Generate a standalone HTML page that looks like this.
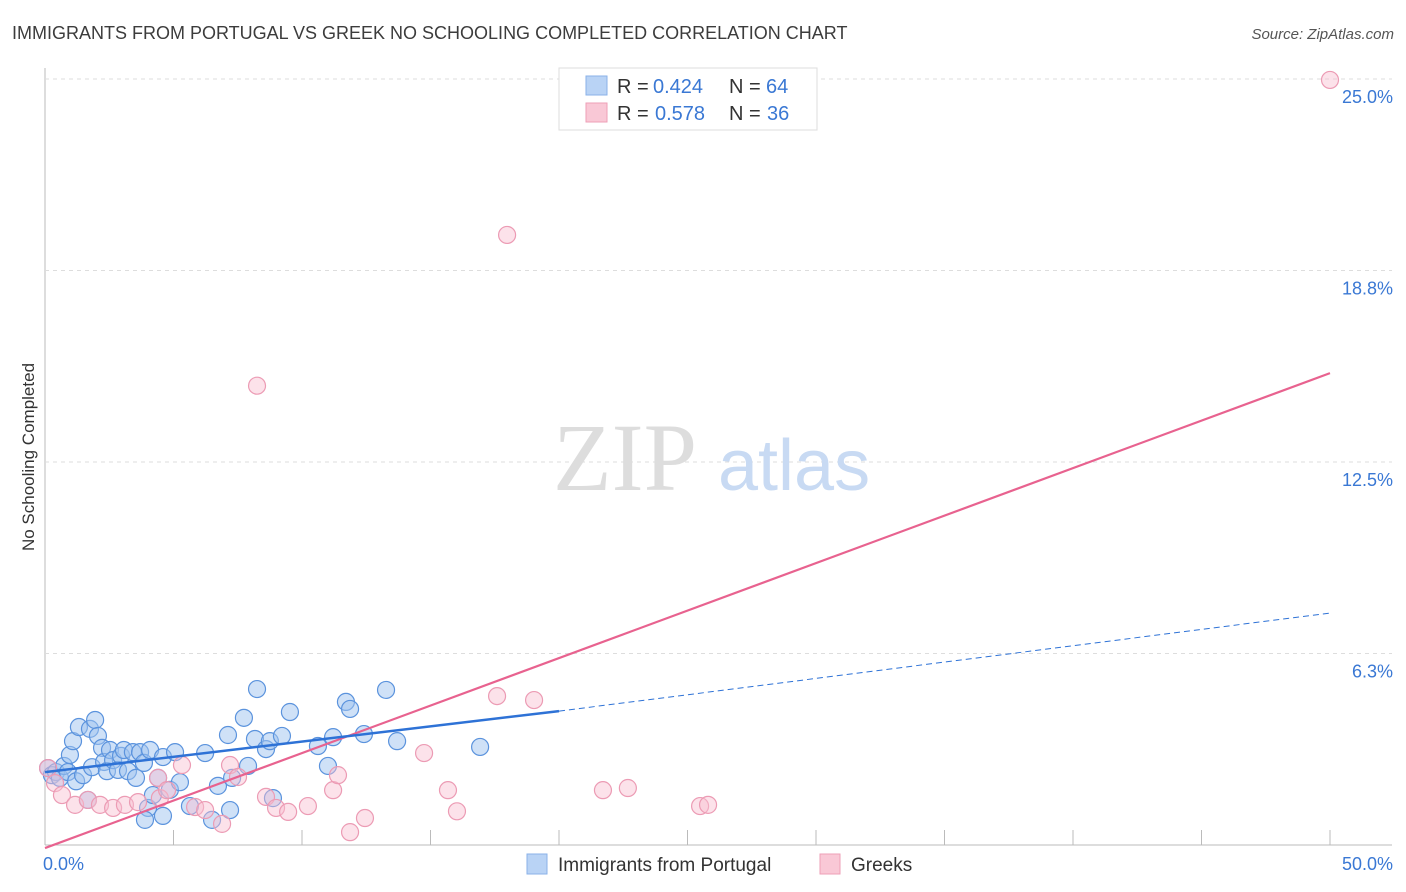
<!DOCTYPE html>
<html><head><meta charset="utf-8"><style>
body{margin:0;background:#fff;font-family:"Liberation Sans",sans-serif;}
</style></head><body>
<svg id="chart" width="1406" height="892" xmlns="http://www.w3.org/2000/svg" style="display:block">
<text x="12" y="39" font-size="18" fill="#3c3c3c">IMMIGRANTS FROM PORTUGAL VS GREEK NO SCHOOLING COMPLETED CORRELATION CHART</text>
<text x="1394" y="39" font-size="15" fill="#555" text-anchor="end" font-style="italic">Source: ZipAtlas.com</text>
<text transform="translate(34,457) rotate(-90)" font-size="17" fill="#333" text-anchor="middle">No Schooling Completed</text>
<g id="grid"></g>
<text x="553" y="490" font-size="96" font-family="Liberation Serif" fill="#ddd">ZIP</text>
<text x="718" y="490" font-size="72" fill="#c8daf3">atlas</text>
<g id="points"></g>
<g id="lines"></g>
<g>
<rect x="559" y="68" width="258" height="62" fill="#fff" stroke="#ddd"/>
<rect x="586" y="76" width="21" height="19" fill="#b9d3f5" stroke="#8ab2e8"/>
<rect x="586" y="103" width="21" height="19" fill="#f9c8d6" stroke="#ee9fb7"/>
<text x="617" y="93" font-size="20" fill="#333">R =</text>
<text x="653" y="93" font-size="20" fill="#3a78d4">0.424</text>
<text x="729" y="93" font-size="20" fill="#333">N =</text>
<text x="766" y="93" font-size="20" fill="#3a78d4">64</text>
<text x="617" y="120" font-size="20" fill="#333">R =</text>
<text x="655" y="120" font-size="20" fill="#3a78d4">0.578</text>
<text x="729" y="120" font-size="20" fill="#333">N =</text>
<text x="767" y="120" font-size="20" fill="#3a78d4">36</text>
</g>
<g>
<rect x="527" y="854" width="20" height="20" fill="#b9d3f5" stroke="#8ab2e8"/>
<text x="558" y="871" font-size="19" fill="#333">Immigrants from Portugal</text>
<rect x="820" y="854" width="20" height="20" fill="#f9c8d6" stroke="#ee9fb7"/>
<text x="851" y="871" font-size="19" fill="#333">Greeks</text>
</g>
</svg>
<script>
const xTicks=[5,10,15,20,25,30,35,40,45,50];
const yTicks=[6.25,12.5,18.75,25];
const yTickLabels=["6.3%","12.5%","18.8%","25.0%"];
const xEndLabels=["0.0%","50.0%"];
const portugalX=[0.12,0.27,0.43,0.58,0.74,0.89,0.97,1.09,1.21,1.32,1.48,1.67,1.75,1.83,1.95,2.06,2.22,2.30,2.41,2.53,2.65,2.84,2.96,3.07,3.23,3.42,3.54,3.70,3.85,4.01,4.09,4.20,4.40,4.59,4.86,5.06,5.25,5.64,6.23,6.50,6.73,7.12,7.28,7.74,7.90,8.17,8.25,8.60,8.75,9.22,9.53,8.87,10.62,11.01,11.21,11.71,11.87,12.41,13.27,13.70,16.93,3.89,4.59,7.20];
const portugalY=[2.51,2.28,2.38,2.19,2.58,2.38,2.94,3.39,2.08,3.85,2.28,1.47,3.79,2.54,4.08,3.56,3.17,2.71,2.41,3.10,2.77,2.45,2.91,3.10,2.41,3.03,2.19,3.03,2.68,1.21,3.10,1.63,2.19,2.87,1.80,3.03,2.05,1.27,3.00,0.82,1.93,3.59,2.19,4.15,2.58,3.46,5.09,3.13,3.39,3.56,4.34,1.53,3.23,2.58,3.52,4.67,4.44,3.62,5.06,3.39,3.20,0.82,0.95,1.14];
const greeksX=[0.12,0.39,0.66,1.17,1.67,2.14,2.65,3.11,3.62,4.40,4.47,4.75,5.33,5.84,6.23,6.89,7.20,7.51,8.25,8.60,8.99,9.46,10.23,11.21,11.40,11.87,12.45,14.75,15.68,16.03,17.59,17.98,19.03,21.71,22.68,25.49,25.80,50.00];
const greeksY=[2.51,2.02,1.63,1.31,1.47,1.31,1.21,1.31,1.40,2.19,1.53,1.79,2.61,1.24,1.14,0.69,2.61,2.22,14.99,1.57,1.21,1.08,1.27,1.79,2.28,0.42,0.88,3.00,1.79,1.10,4.86,19.91,4.73,1.79,1.86,1.27,1.31,24.97];
const portugalFit=[[0,2.38],[20,4.37]];
const portugalFitExt=[[20,4.37],[50,7.57]];
const greeksFit=[[0,-0.1],[50,15.4]];

const X=v=>45+v*1285/50;
const Y=v=>845-v*191.5/6.25;
const NS='http://www.w3.org/2000/svg';
function mk(tag,attrs,parent){const e=document.createElementNS(NS,tag);for(const k in attrs)e.setAttribute(k,attrs[k]);parent.appendChild(e);return e;}
const grid=document.getElementById('grid');
let ax=mk('line',{x1:45,y1:68,x2:45,y2:845,stroke:'#bbb','stroke-width':1},grid);


let bx=mk('line',{x1:45,y1:845,x2:1392,y2:845,stroke:'#bbb','stroke-width':1},grid);


yTicks.forEach((t,i)=>{
  const g=mk('line',{x1:45,y1:Y(t),x2:1392,y2:Y(t),stroke:'#ddd','stroke-dasharray':'4,4'},grid);
  
  
  const l=mk('text',{x:1393,y:Y(t)+24,'font-size':18,fill:'#3a78d4','text-anchor':'end'},grid);
  l.textContent=yTickLabels[i];
  
  
});
xTicks.forEach(t=>{
  const g=mk('line',{x1:X(t),y1:830,x2:X(t),y2:845,stroke:'#bbb'},grid);
  
  
});
[[X(0)-2,'start',0],[1393,'end',1]].forEach(([x,a,i])=>{
  const l=mk('text',{x:x,y:870,'font-size':18,fill:'#3a78d4','text-anchor':a},grid);
  l.textContent=xEndLabels[i];
  
  
});
const pts=document.getElementById('points');
portugalX.forEach((v,i)=>{
  const c=mk('circle',{cx:X(v),cy:Y(portugalY[i]),r:8.5,fill:'rgba(160,196,240,0.5)',stroke:'#5b93dd','stroke-width':1.2},pts);
  
  
});
greeksX.forEach((v,i)=>{
  const c=mk('circle',{cx:X(v),cy:Y(greeksY[i]),r:8.5,fill:'rgba(248,190,208,0.45)',stroke:'#ec9bb4','stroke-width':1.2},pts);
  
  
});
const lines=document.getElementById('lines');
let l1=mk('line',{x1:X(greeksFit[0][0]),y1:Y(greeksFit[0][1]),x2:X(greeksFit[1][0]),y2:Y(greeksFit[1][1]),stroke:'#e8628f','stroke-width':2.2},lines);


let l2=mk('line',{x1:X(portugalFit[0][0]),y1:Y(portugalFit[0][1]),x2:X(portugalFit[1][0]),y2:Y(portugalFit[1][1]),stroke:'#2e72d6','stroke-width':2.5},lines);


let l3=mk('line',{x1:X(portugalFitExt[0][0]),y1:Y(portugalFitExt[0][1]),x2:X(portugalFitExt[1][0]),y2:Y(portugalFitExt[1][1]),stroke:'#2e72d6','stroke-width':1,'stroke-dasharray':'6,4'},lines);


</script>
</body></html>
